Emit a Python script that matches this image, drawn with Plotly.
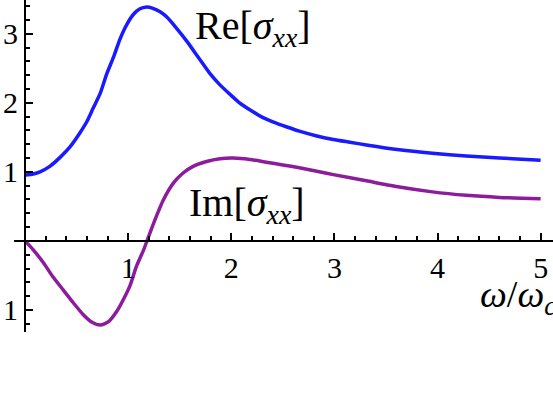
import plotly.graph_objects as go

# Curves (omega / omega_c against sigma_xx)
re_w = [0.00, 0.08, 0.145, 0.24, 0.34, 0.44, 0.53, 0.60, 0.66, 0.73, 0.79, 0.86, 0.92, 0.985,
        1.05, 1.11, 1.18, 1.24, 1.31, 1.37, 1.47, 1.57, 1.68, 1.79, 1.89, 1.99, 2.08, 2.18,
        2.29, 2.41, 2.54, 2.66, 2.83, 2.99, 3.15, 3.31, 3.63, 3.95, 4.28, 4.60, 5.00]
re_sigma = [0.955, 0.97, 1.00, 1.08, 1.21, 1.37, 1.56, 1.73, 1.92, 2.14, 2.41, 2.67, 2.92, 3.13,
            3.28, 3.36, 3.39, 3.37, 3.32, 3.25, 3.08, 2.89, 2.66, 2.43, 2.26, 2.12, 2.00, 1.90,
            1.80, 1.72, 1.65, 1.59, 1.52, 1.47, 1.43, 1.39, 1.32, 1.27, 1.23, 1.20, 1.17]

im_w = [0.00, 0.08, 0.18, 0.27, 0.37, 0.47, 0.565, 0.65, 0.73, 0.81, 0.89, 0.95, 1.02, 1.08,
        1.15, 1.21, 1.28, 1.34, 1.44, 1.53, 1.63, 1.76, 1.89, 2.02, 2.18, 2.34, 2.50, 2.66,
        2.83, 2.99, 3.31, 3.63, 3.95, 4.28, 4.60, 5.00]
im_sigma = [0.00, -0.13, -0.32, -0.52, -0.71, -0.90, -1.07, -1.18, -1.22, -1.17, -1.02, -0.86,
            -0.64, -0.37, -0.13, 0.11, 0.38, 0.59, 0.84, 0.98, 1.08, 1.15, 1.19, 1.20, 1.18, 1.14,
            1.10, 1.06, 1.01, 0.96, 0.87, 0.78, 0.71, 0.66, 0.63, 0.61]

x_ticks = [1, 2, 3, 4, 5]
y_ticks = [-1, 1, 2, 3]
y_tick_text = ["1", "1", "2", "3"]

x_range = [-0.107, 5.12]
y_range = [-1.32, 3.49]

serif = "Liberation Serif"
tick_font = dict(family=serif, size=30, color="black")

fig = go.Figure()
fig.add_trace(go.Scatter(x=re_w, y=re_sigma, mode="lines",
                         line=dict(color="#1a1aff", width=3.5, shape="spline", smoothing=0.6)))
fig.add_trace(go.Scatter(x=im_w, y=im_sigma, mode="lines",
                         line=dict(color="#8c1c9c", width=3.5, shape="spline", smoothing=0.6)))

fig.add_annotation(x=1.63, y=3.09, xref="x", yref="y", xanchor="left", yanchor="middle",
                   text="Re[<i>σ</i><sub><i>xx</i></sub>]", showarrow=False,
                   font=dict(family=serif, size=40, color="black"))
fig.add_annotation(x=1.57, y=0.52, xref="x", yref="y", xanchor="left", yanchor="middle",
                   text="Im[<i>σ</i><sub><i>xx</i></sub>]", showarrow=False,
                   font=dict(family=serif, size=40, color="black"))
fig.add_annotation(x=1.0, y=-0.82, xref="paper", yref="y", xanchor="right", yanchor="middle",
                   xshift=5,
                   text="<i>ω</i>/<i>ω</i><sub><i>c</i></sub>", showarrow=False,
                   font=dict(family=serif, size=38, color="black"))

fig.update_layout(
    template="none",
    width=553, height=417, autosize=False,
    margin=dict(l=14, r=0, t=0, b=85, pad=0),
    paper_bgcolor="white", plot_bgcolor="white",
    showlegend=False,
    font=dict(family=serif, size=30, color="black"),
)
fig.update_xaxes(
    range=x_range, anchor="free", automargin=False,
    position=(0 - y_range[0]) / (y_range[1] - y_range[0]),
    showline=True, linecolor="black", linewidth=2,
    showgrid=False, zeroline=False,
    tickmode="array", tickvals=x_ticks, tickfont=tick_font,
    ticks="inside", ticklen=7, tickwidth=1.5, tickcolor="black",
    minor=dict(tickmode="linear", tick0=0, dtick=0.2, ticks="inside", ticklen=4,
               tickwidth=1.5, tickcolor="black", showgrid=False),
)
fig.update_yaxes(
    range=y_range, anchor="free", automargin=False,
    position=(0 - x_range[0]) / (x_range[1] - x_range[0]),
    showline=True, linecolor="black", linewidth=2,
    showgrid=False, zeroline=False,
    tickmode="array", tickvals=y_ticks, ticktext=y_tick_text, tickfont=tick_font,
    ticks="inside", ticklen=7, tickwidth=1.5, tickcolor="black",
    minor=dict(tickmode="linear", tick0=0, dtick=0.2, ticks="inside", ticklen=4,
               tickwidth=1.5, tickcolor="black", showgrid=False),
)

# the page body has a default 8px margin; drop it so the figure sits at the window corner
fig.write_html("out.html", config={"displayModeBar": False},
               post_script="document.body.style.margin='0';")
